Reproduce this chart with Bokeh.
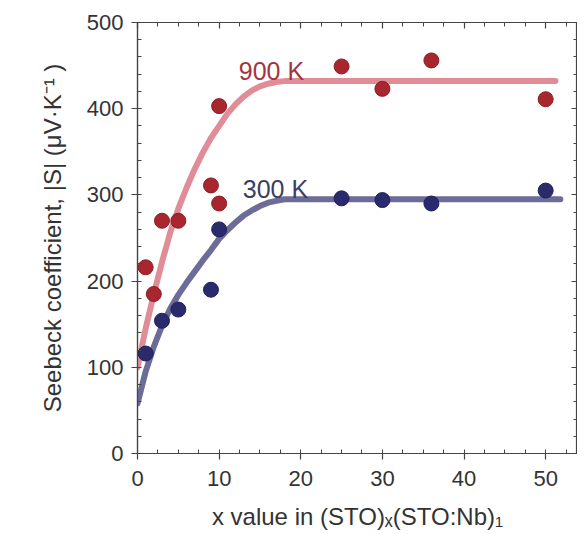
from bokeh.plotting import figure
from bokeh.models import (Range1d, LinearAxis, FixedTicker, Label)
from bokeh.embed import file_html
from bokeh.resources import INLINE

# --- data ---
x_900 = [1, 2, 3, 5, 9, 10, 10, 25, 30, 36, 50]
s_900 = [216, 185, 270, 270, 311, 290, 403, 449, 423, 456, 411]

x_300 = [1, 3, 5, 9, 10, 25, 30, 36, 50]
s_300 = [116, 154, 167, 190, 260, 296, 294, 290, 305]

fit_x_900 = [0, 1, 2, 3, 4, 5, 6, 7, 8, 9, 10, 11, 12, 13, 14, 15, 16, 17, 18, 19, 20, 51.2]
fit_s_900 = [100, 145, 185, 222, 256, 284, 308, 330, 349, 366, 380, 394, 405, 414, 421, 426, 429, 431, 432, 432, 432, 432]

fit_x_300 = [0, 1, 2, 3, 4, 5, 6, 7, 8, 9, 10, 11, 12, 13, 14, 15, 16, 17, 18, 19, 51.8]
fit_s_300 = [58, 95, 124, 148, 168, 184, 198, 211, 224, 236, 249, 259, 268, 276, 282, 287, 291, 293, 295, 295, 295]

x_ticks = [0, 10, 20, 30, 40, 50]
y_ticks = [0, 100, 200, 300, 400, 500]

RED_DOT = "#a8262e"
RED_LINE = "#e08d98"
BLUE_DOT = "#2a2a6c"
BLUE_LINE = "#6c6c98"
AXIS_C = "#444444"
TEXT_C = "#333333"
FONT = "Liberation Sans"

p = figure(width=570, height=518, frame_width=440, frame_height=431,
           output_backend="svg", toolbar_location=None,
           x_range=Range1d(0, 53.9), y_range=Range1d(0, 500),
           min_border_left=137, min_border_right=0, min_border_top=22,
           min_border_bottom=0)
p.grid.visible = False
p.outline_line_color = AXIS_C
p.outline_line_width = 1.2

# fitted lines
p.line(fit_x_900, fit_s_900, line_color=RED_LINE, line_width=6, line_cap="round")
p.line(fit_x_300, fit_s_300, line_color=BLUE_LINE, line_width=6, line_cap="round")

# data points
p.scatter(x_900, s_900, size=15, fill_color=RED_DOT, line_color="#8a1e25", line_width=1)
p.scatter(x_300, s_300, size=15, fill_color=BLUE_DOT, line_color="#22225a", line_width=1)

p.add_layout(Label(x=12.4, y=444, text="900 K", text_color="#a3343e", text_font=FONT,
                   text_font_size="25px", text_baseline="alphabetic"))
p.add_layout(Label(x=12.9, y=307, text="300 K", text_color="#3c3c66", text_font=FONT,
                   text_font_size="25px", text_baseline="alphabetic"))

def style(ax, labels=True):
    ax.axis_line_color = AXIS_C
    ax.axis_line_width = 1.2
    ax.major_tick_line_color = AXIS_C
    ax.minor_tick_line_color = AXIS_C
    ax.major_tick_line_width = 1.2
    ax.minor_tick_line_width = 1
    ax.major_label_text_font = FONT
    ax.major_label_text_font_size = "22px"
    ax.major_label_text_color = TEXT_C
    ax.axis_label_text_font = FONT
    ax.axis_label_text_font_size = "24px"
    ax.axis_label_text_font_style = "normal"
    ax.axis_label_text_color = TEXT_C

xt = FixedTicker(ticks=x_ticks, minor_ticks=[i * 2.5 for i in range(23)])
yt = FixedTicker(ticks=y_ticks, minor_ticks=[i * 20 for i in range(26)])

xa = p.xaxis[0]
xa.ticker = xt
xa.axis_label = "x value in (STO)ₓ(STO:Nb)₁"
xa.major_tick_out = 6
xa.major_tick_in = 0
xa.minor_tick_in = 4
xa.minor_tick_out = 0
xa.major_label_standoff = 11
xa.axis_label_standoff = 14
style(xa)

ya = p.yaxis[0]
ya.ticker = yt
ya.axis_label = "Seebeck coefficient, |S| (μV·K⁻¹ )"
ya.major_tick_out = 6
ya.major_tick_in = 0
ya.minor_tick_in = 4
ya.minor_tick_out = 0
ya.major_label_standoff = 8
ya.axis_label_standoff = 18
style(ya)

top = LinearAxis(ticker=xt)
style(top)
top.major_tick_in = 6
top.major_tick_out = 0
top.minor_tick_in = 4
top.minor_tick_out = 0
top.major_label_standoff = 0
top.major_label_overrides = {t: "" for t in x_ticks}
top.major_label_text_font_size = "0px"
p.add_layout(top, "above")

right = LinearAxis(ticker=yt)
style(right)
right.major_tick_in = 6
right.major_tick_out = 0
right.minor_tick_in = 4
right.minor_tick_out = 0
right.major_label_standoff = 0
right.major_label_overrides = {t: "" for t in y_ticks}
right.major_label_text_font_size = "0px"
p.add_layout(right, "right")

open("out.html", "w").write(file_html(p, INLINE))
